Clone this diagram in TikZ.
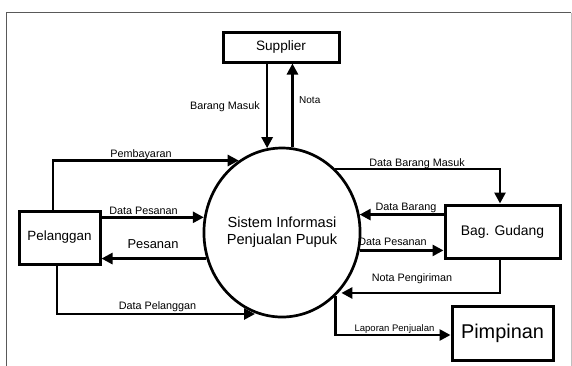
\documentclass[tikz,border=0pt]{standalone}
\usepackage{fontspec}
\setmainfont{Liberation Sans}
\usetikzlibrary{shapes.geometric,arrows.meta,calc}
\tikzset{
  ent/.style={draw, line width=3pt, inner sep=0pt, align=center},
  proc/.style={draw, ellipse, line width=2.7pt, inner sep=0pt, minimum width=141pt, minimum height=169pt, align=center, font=\fontsize{14.6}{17}\selectfont},
  flow/.style={line width=2.6pt, -{Triangle[length=11pt,width=11pt]}},
  lbl/.style={inner sep=0pt, font=\fontsize{10.8}{12}\selectfont},
}
\begin{document}
\begin{tikzpicture}[x=1pt,y=-1pt]
\useasboundingbox (0,0) rectangle (572,365);
% frame
\draw[line width=0.9pt, black!65] (6.5,366) -- (6.5,12.5) -- (571,12.5);
\draw[line width=0.9pt, black!25] (571,12.5) -- (571,366);
% nodes
\node[ent, minimum width=116pt, minimum height=30pt, font=\fontsize{13.6}{15}\selectfont] (sup) at (281,47) {Supplier};
\node[proc] (el) at (282,232.5) {Sistem Informasi\\Penjualan Pupuk};
\node[ent, minimum width=81pt, minimum height=53pt, font=\fontsize{13.4}{15}\selectfont] (pel) at (59.5,237.5) {Pelanggan};
\node[ent, minimum width=115pt, minimum height=53pt, font=\fontsize{13.9}{15}\selectfont] (gud) at (502.5,231.5) {Bag. Gudang};
\node[ent, minimum width=101pt, minimum height=54pt, font=\fontsize{19.9}{22}\selectfont] (pim) at (502.5,333) {Pimpinan};
\coordinate (dpl) at (255,314);
\coordinate (gx) at (500,173);
% connectors
\draw[flow] (sup.south -| el.100.3) -- (el.100.3);
\draw[flow] (el.83.8) -- (sup.south -| el.83.8);
\draw[flow] ([xshift=-6.5pt]pel.north) |- (el.121);
\draw[flow] (pel.east |- el.169) -- (el.169);
\draw[flow] (el.199.9) -- (pel.east |- el.199.9);
\draw[flow] ([xshift=-2.5pt]pel.south) |- (dpl);
\draw[flow] (el.50) -| (gx |- gud.north);
\draw[flow] (gud.west |- el.13.4) -- (el.13.4);
\draw[flow] (el.-13.4) -- (gud.west |- el.-13.4);
\draw[flow] (gx |- gud.south) |- ($(el.313.8)+(3,0)$);
\draw[flow] (el.310) |- (pim.west |- 0,335);
% labels
\node[lbl, anchor=east] (lbm) at (260,107) {Barang Masuk};
\node[lbl, anchor=west, font=\fontsize{10}{12}\selectfont] (lno) at (299,100) {Nota};
\node[lbl] (lpb) at (141,155) {Pembayaran};
\node[lbl] (ldp1) at (143.5,211) {Data Pesanan};
\node[lbl, font=\fontsize{12.9}{14}\selectfont] (lps) at (153,244) {Pesanan};
\node[lbl] (ldpl) at (157.5,307) {Data Pelanggan};
\node[lbl] (ldbm) at (417,164) {Data Barang Masuk};
\node[lbl] (ldb) at (406,208) {Data Barang};
\node[lbl] (ldp2) at (392.5,242) {Data Pesanan};
\node[lbl] (lnp) at (412,279) {Nota Pengiriman};
\node[lbl, font=\fontsize{9.5}{11}\selectfont] (llp) at (394.5,329) {Laporan Penjualan};
\end{tikzpicture}
\end{document}
